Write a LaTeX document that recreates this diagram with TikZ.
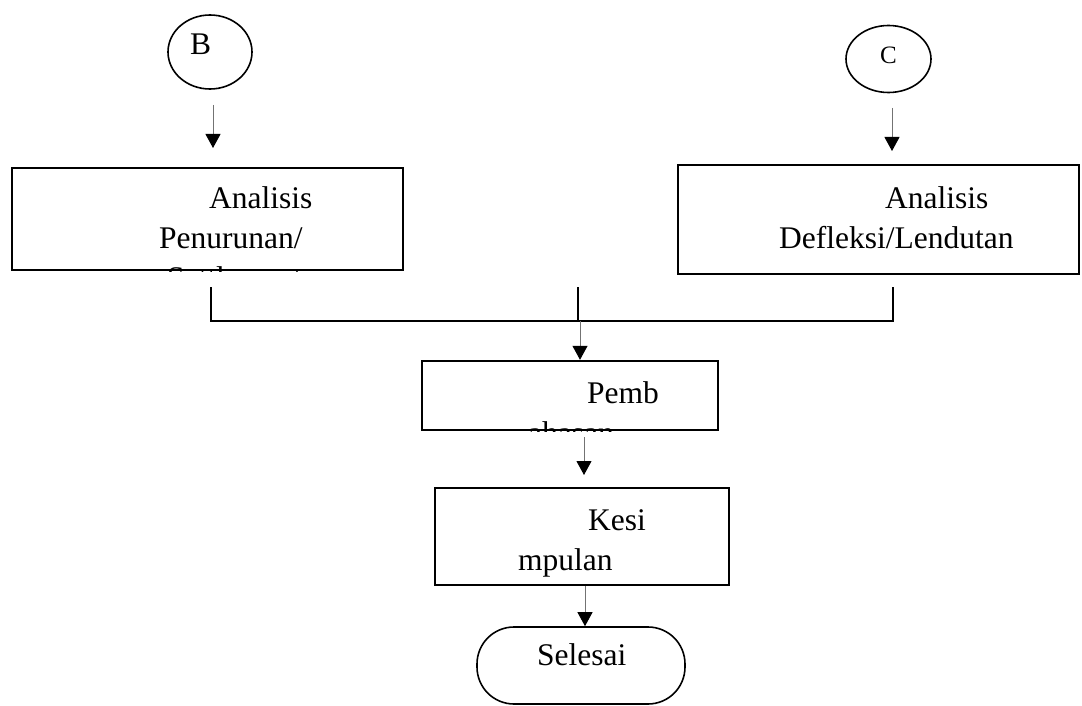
\documentclass[tikz,border=0pt]{standalone}
\usepackage{fontspec}
\setmainfont{Liberation Serif}
\usetikzlibrary{arrows.meta,shapes.geometric}
\tikzset{
  boxn/.style={draw=black, line width=2.4pt, rectangle, inner sep=0pt},
  circn/.style={draw=black, line width=1.6pt, ellipse, inner sep=0pt},
  termn/.style={draw=black, line width=1.6pt, rectangle, rounded corners=37pt, inner sep=0pt},
  txt/.style={anchor=base west, inner sep=0pt, font=\fontsize{31.5}{37}\selectfont},
  arr/.style={draw=black!55, line width=1pt, -{Triangle[length=14pt,width=15pt,color=black]}},
  conn/.style={draw=black, line width=1.8pt}
}
\begin{document}
\begin{tikzpicture}[x=1pt,y=-1pt]
\useasboundingbox[fill=white] (0,0) rectangle (1082,706);

% start connectors
\node[circn, minimum width=84pt, minimum height=74pt] (B) at (210,52) {};
\node[txt] (Bt) at (190,55) {B};
\node[circn, minimum width=85pt, minimum height=67pt] (C) at (888.5,59) {};
\node[txt, font=\fontsize{25}{30}\selectfont] (Ct) at (880,64) {C};

% boxes
\node[boxn, minimum width=391pt, minimum height=102pt] (L) at (207.5,219) {};
\node[boxn, minimum width=401pt, minimum height=109pt] (R) at (878.5,219.5) {};
\node[boxn, minimum width=296pt, minimum height=69pt] (P) at (570,395.5) {};
\node[boxn, minimum width=294pt, minimum height=97pt] (K) at (582,536.5) {};
\node[termn, minimum width=208pt, minimum height=77pt] (S) at (581,665.5) {};

% texts
\begin{scope}
  \clip (L.south west) rectangle (L.north east);
  \node[txt] (L1) at (209,208) {Analisis};
  \node[txt] (L2) at (159,248) {Penurunan/};
  \node[txt] (L3) at (167,288) {Settlement};
\end{scope}
\node[txt] (R1) at (885,208) {Analisis};
\node[txt] (R2) at (779,248) {Defleksi/Lendutan};
\begin{scope}
  \clip (P.south west) rectangle (P.north east);
  \node[txt] (P1) at (587,403) {Pemb};
  \node[txt] (P2) at (528,443) {ahasan};
\end{scope}
\node[txt] (K1) at (588,530) {Kesi};
\node[txt] (K2) at (518,570) {mpulan};
\node[txt] (S1) at (537,665) {Selesai};

% arrows from connectors
\coordinate (b1) at (213,105);
\coordinate (b2) at (213,148);
\coordinate (c1) at (892,108);
\coordinate (c2) at (892,151);
\draw[arr] (b1) -- (b2);
\draw[arr] (c1) -- (c2);

% merge lines
\coordinate (dL) at (211,287);
\coordinate (dM) at (578,287);
\coordinate (dR) at (893,287);
\coordinate (jL) at (211,321);
\coordinate (jM) at (578,321);
\coordinate (jR) at (893,321);
\draw[conn] (dL) -- (jL) -- (jR) -- (dR);
\draw[conn] (dM) -- (jM);
\draw[arr] ([xshift=2pt]jM) -- ([xshift=2pt]jM |- P.north);

% lower arrows
\coordinate (p1) at (584,437);
\coordinate (p2) at (584,475);
\draw[arr] (p1) -- (p2);
\draw[arr] (K.south -| 585,0) -- (S.north -| 585,0);
\end{tikzpicture}
\end{document}
